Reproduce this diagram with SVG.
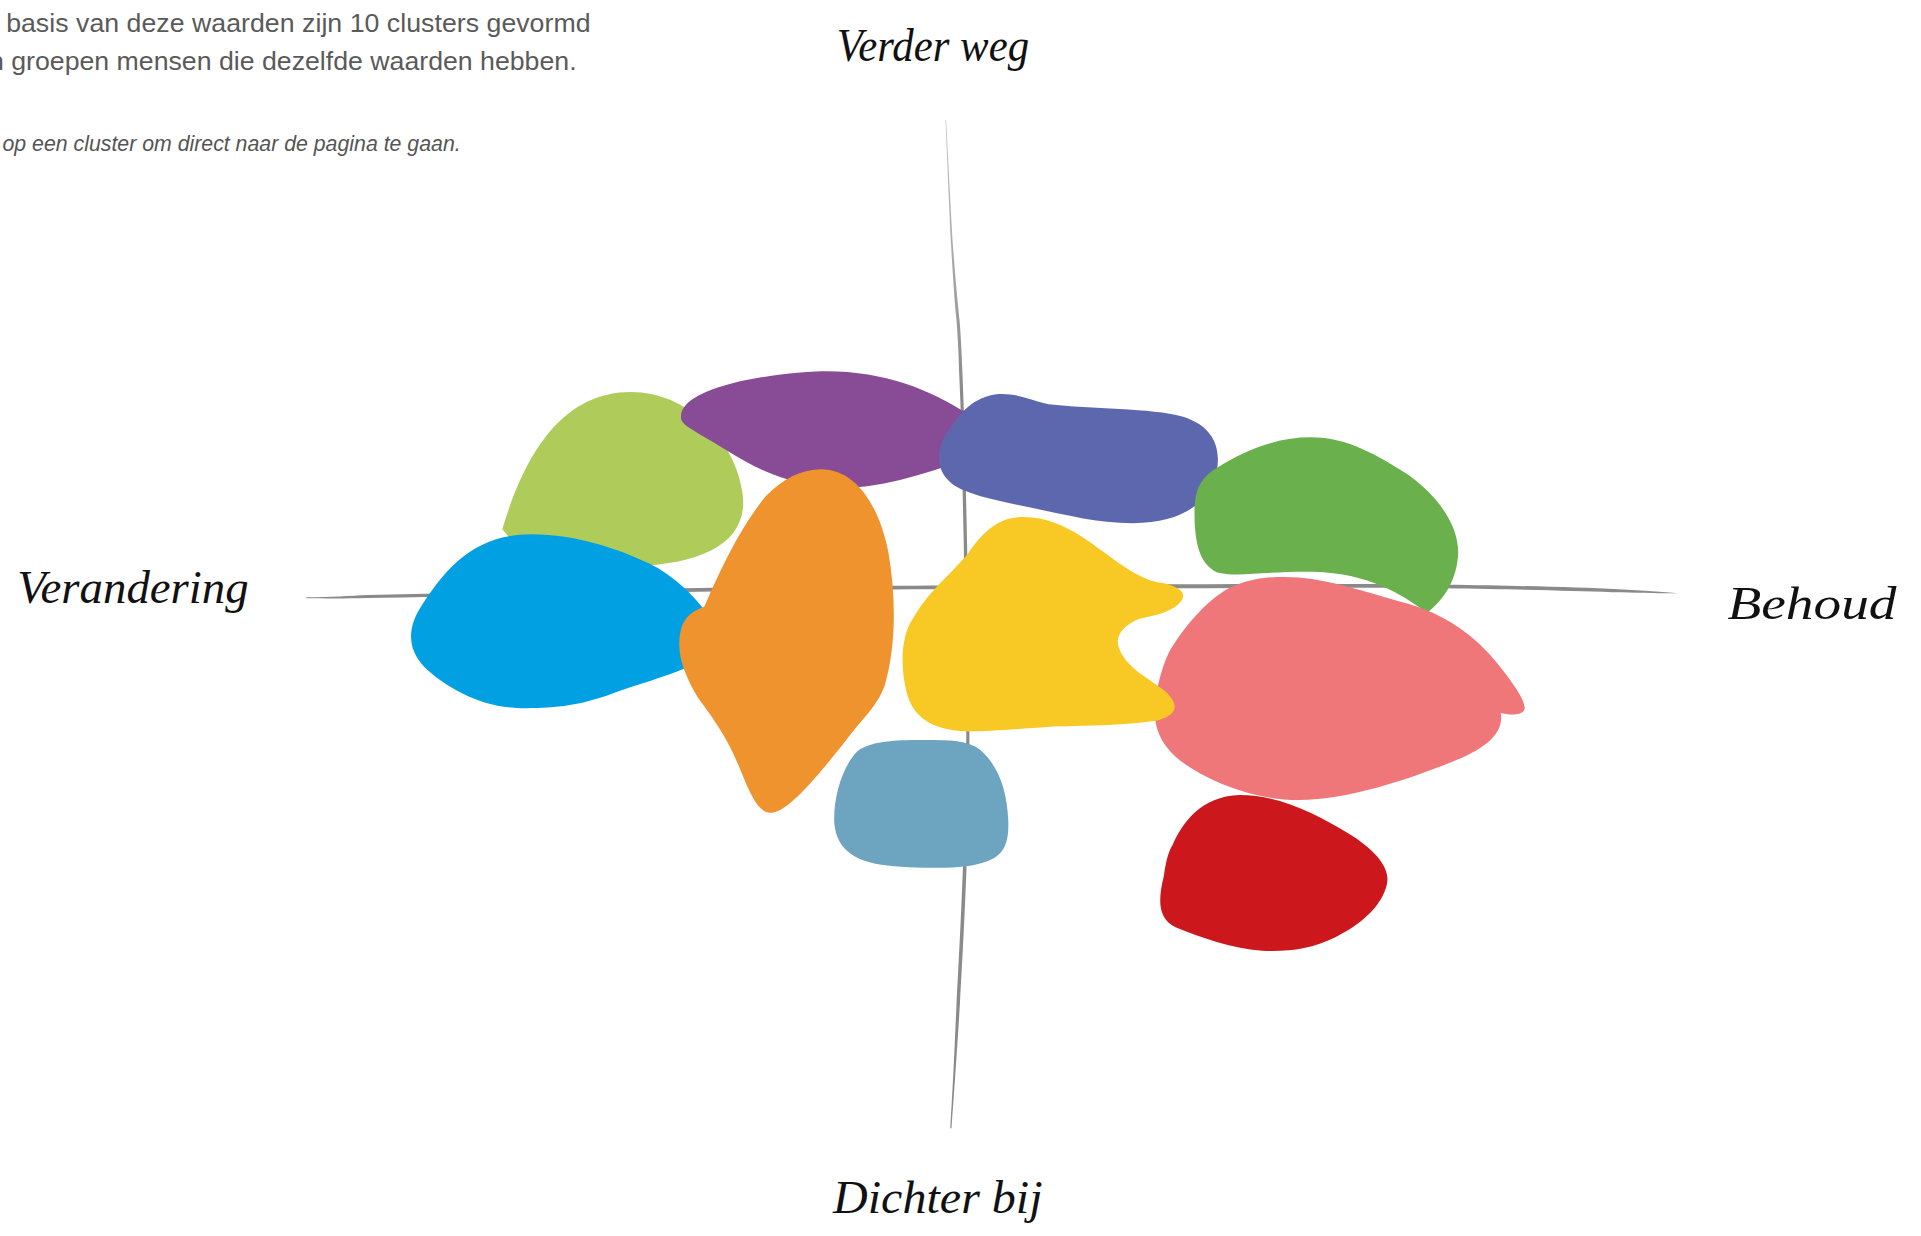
<svg xmlns="http://www.w3.org/2000/svg" width="1921" height="1236" viewBox="0 0 1921 1236">
<style>
.intro{font-family:"Liberation Sans",Arial,sans-serif;font-size:21.8px;fill:#5a5a5a}
.hint{font-family:"Liberation Sans",Arial,sans-serif;font-size:17.4px;font-style:italic;fill:#555}
.axlabel{font-family:"Liberation Serif","Times New Roman",serif;font-style:italic;font-size:38px;fill:#111}
.axis{fill:none;stroke:#8a8a8a;stroke-linecap:round;stroke-linejoin:round}
</style>
<defs>
<linearGradient id="vfade" gradientUnits="userSpaceOnUse" x1="0" y1="98" x2="0" y2="320">
<stop offset="0" stop-color="#c8c8c8"/>
<stop offset="1" stop-color="#8a8a8a"/>
</linearGradient>
</defs>
<rect width="1921" height="1236" fill="#fff"/>
<g transform="scale(1.22513)">
<g id="intro-text">
<text class="intro" x="5" y="26" textLength="477">basis van deze waarden zijn 10 clusters gevormd</text>
<text class="intro" x="-9" y="57">n groepen mensen die dezelfde waarden hebben.</text>
<text class="hint" x="2" y="123" textLength="374">op een cluster om direct naar de pagina te gaan.</text>
</g>
<g id="connectors">
<path fill="#8a8a8a" d="M250,487.6 C270,487.4 285,486.2 300,485.6 C420,482.8 560,479.4 700,478.3 C800,477.6 960,476.6 1100,476.7 C1250,477.2 1330,480.5 1370,484.3 C1330,484.8 1250,479.8 1100,479.8 C960,479.8 800,480.6 700,481.3 C560,482.5 420,486 300,488.2 C285,488.6 270,488.6 250,488.4 Z"/>
<path fill="url(#vfade)" d="M771.7,98 C773.5,140 775,175 776.3,200 C778,230 779.5,250 780.8,262 C782,280 782.6,290 782.7,300 C784.5,340 785.5,370 785.7,400 C787.5,480 788.5,540 788.7,600 C788,680 784,760 780.7,820 C779,860 777.6,890 775.6,921 L776.6,921 C779,890 781,860 783.5,820 C787,760 791,680 791.3,600 C791,540 790.3,480 788.4,400 C788,370 787,340 785.4,300 C785,290 784.6,280 783.3,262 C782,250 780,230 777.8,200 C776.3,175 774.5,140 772.3,98 Z"/>
</g>
<g id="cluster-lightgreen"><path fill="#AFCC5A" d="M410,432 C428,372 458,320 515,320 C560,320 600,358 606,402 C612,442 575,460 520,462 L415,438 Z"/></g>
<g id="cluster-purple"><path fill="#884B95" d="M556,342 C552,318 620,305 670,303 C720,302 760,318 790,338 L795,372 C760,386 720,398 690,398 C650,398 620,385 592,367 C572,354 557,348 556,342 Z"/></g>
<g id="cluster-indigo"><path fill="#5D67AE" d="M812,322 C830,320 845,328 856,330 C890,334 940,333 965,340 C988,347 995,362 994,378 C993,405 970,427 925,427 C895,427 870,420 845,415 C815,409 785,403 775,393 C763,382 764,365 775,350 C785,335 795,325 812,322 Z"/></g>
<g id="cluster-blue"><path fill="#00A0E2" d="M434,436 C470,436 505,448 530,460 C550,470 565,485 575,498 L580,535 C555,550 530,555 500,566 C470,577 450,578 425,578 C395,578 365,562 347,545 C330,528 335,510 342,498 C365,460 390,436 434,436 Z"/></g>
<g id="cluster-orange"><path fill="#EF932E" d="M670,383 C700,383 718,415 725,450 C732,490 731,530 722,560 C715,578 705,585 690,605 C670,630 650,655 635,662 C622,668 615,655 605,630 C595,605 585,590 570,570 C558,550 550,530 557,510 C562,500 568,498 575,495 C590,460 605,430 625,405 C640,390 655,383 670,383 Z"/></g>
<g id="cluster-green"><path fill="#6AB04C" d="M993,382 C1020,365 1045,357 1070,357 C1100,357 1125,372 1150,388 C1180,410 1192,435 1190,455 C1188,475 1178,490 1165,500 C1150,490 1125,470 1080,467 C1040,465 1010,472 993,467 C978,460 975,440 975,418 C975,400 980,390 993,382 Z"/></g>
<g id="cluster-pink"><path fill="#EF777A" d="M1048,471 C1080,471 1110,482 1150,493 C1185,503 1210,525 1225,545 C1237,560 1247,575 1244,580 C1240,585 1230,583 1225,582 C1228,600 1210,612 1185,622 C1150,636 1100,653 1060,653 C1020,653 980,635 960,618 C940,600 940,580 946,556 C950,540 955,530 958,526 C975,500 995,482 1010,477 C1025,472 1035,471 1048,471 Z"/></g>
<g id="cluster-yellow"><path fill="#F8C924" d="M835,422 C860,422 880,435 900,450 C920,465 935,475 950,476 C965,480 970,485 962,493 C955,500 940,503 930,505 C918,510 910,518 913,528 C918,545 940,555 952,565 C962,575 962,583 945,588 C920,592 890,592 860,593 C830,595 810,597 790,597 C760,596 745,585 740,565 C735,545 735,520 745,505 C760,480 775,470 790,452 C805,430 818,422 835,422 Z"/></g>
<g id="cluster-steelblue"><path fill="#6DA4C0" d="M755,604 C775,604 790,604 800,612 C815,625 822,645 823,670 C824,695 815,702 795,706 C780,709 755,709 730,707 C700,705 683,695 681,672 C680,650 688,625 700,613 C712,604 735,604 755,604 Z"/></g>
<g id="cluster-red"><path fill="#CC181D" d="M1012,649 C1045,649 1075,665 1100,680 C1125,695 1135,710 1132,722 C1128,740 1110,755 1090,765 C1070,775 1050,777 1030,776 C1005,774 980,765 960,757 C945,750 945,735 950,715 C952,700 955,693 957,690 C965,672 980,650 1012,649 Z"/></g>
<g id="label-top"><text class="axlabel" x="683" y="50" textLength="157" lengthAdjust="spacingAndGlyphs">Verder weg</text></g>
<g id="label-left"><text class="axlabel" x="14" y="492" textLength="189" lengthAdjust="spacingAndGlyphs">Verandering</text></g>
<g id="label-right"><text class="axlabel" x="1410" y="505" textLength="138" lengthAdjust="spacingAndGlyphs">Behoud</text></g>
<g id="label-bottom"><text class="axlabel" x="680" y="990" textLength="171" lengthAdjust="spacingAndGlyphs">Dichter bij</text></g>
</g>
</svg>
